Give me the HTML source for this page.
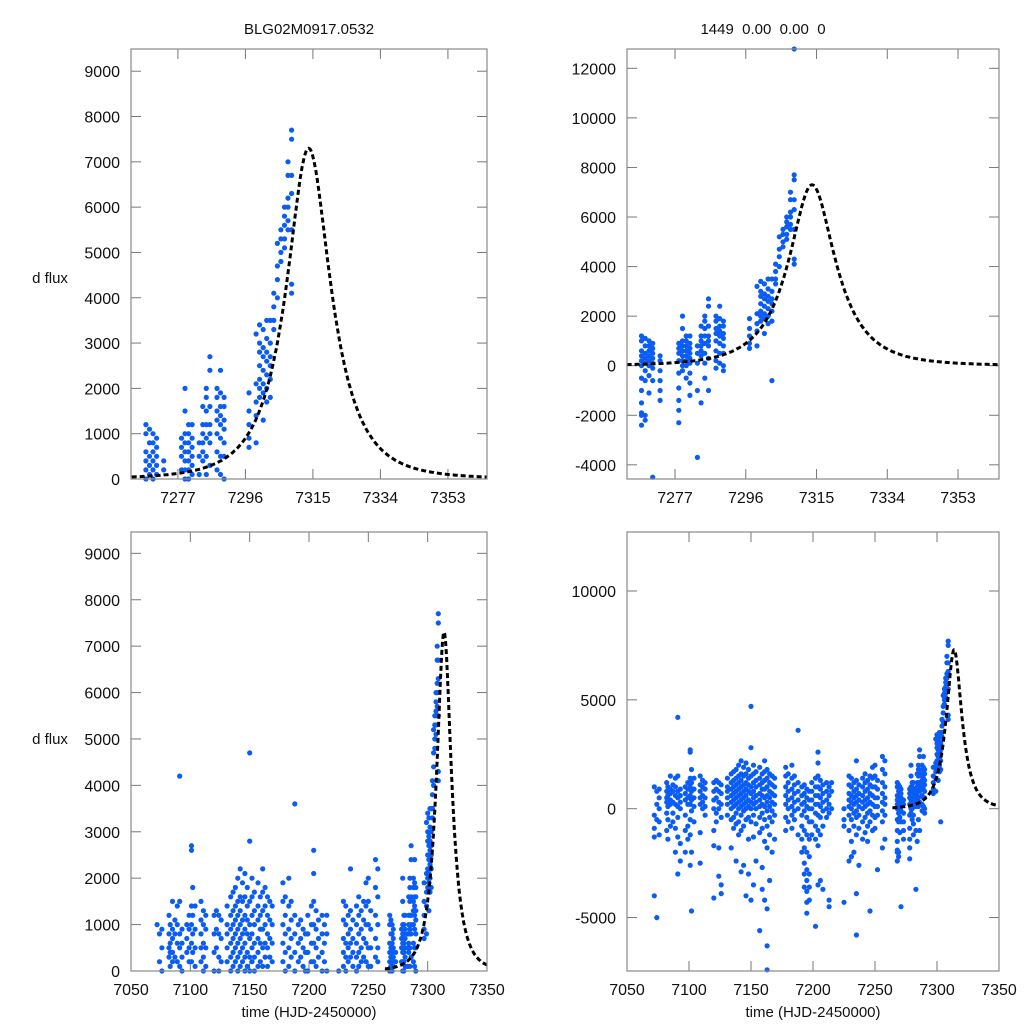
<!DOCTYPE html>
<html><head><meta charset="utf-8"><style>
html,body{margin:0;padding:0;background:#fff;}
svg{display:block;font-family:"Liberation Sans",sans-serif;}
</style></head><body>
<svg id="chart" width="1024" height="1024" viewBox="0 0 1024 1024">
<rect width="1024" height="1024" fill="#fff"/>
<text x="309" y="34" font-size="15" text-anchor="middle" fill="#111">BLG02M0917.0532</text>
<text x="763" y="34" font-size="15" text-anchor="middle" fill="#111" xml:space="preserve">1449  0.00  0.00  0</text>
<text x="50" y="283" font-size="15" text-anchor="middle" fill="#111">d flux</text>
<text x="50" y="744" font-size="15" text-anchor="middle" fill="#111">d flux</text>
<text x="309" y="1017" font-size="15" text-anchor="middle" fill="#111">time (HJD-2450000)</text>
<text x="813" y="1017" font-size="15" text-anchor="middle" fill="#111">time (HJD-2450000)</text>
</svg>
<script>
// observation nights (HJD-2450000)
var nights = [7072,7074,7076,7082,7083,7085,7087,7089,7091,7093,7097,7099,7101,7102,7104,7109,7111,7113,7120,7122,7124,7126,7131,7134,7136,7138,7140,7142,7144,7146,7148,7150,7152,7154,7157,7159,7161,7163,7165,7167,7169,7178,7180,7183,7185,7188,7191,7193,7195,7197,7199,7202,7204,7206,7208,7211,7213,7215,7225,7229,7231,7233,7235,7237,7240,7242,7244,7246,7248,7250,7252,7256,7258,7268,7269,7270,7271,7273,7278,7279,7280,7281,7283,7284,7285,7286,7288,7289,7290,7297,7299,7300,7301,7302,7303,7304,7305,7306,7307,7308,7309];
// flux per night, in units of 100
var fluxByNight = [
[10,-3,-9,-13,-40],[8,2,-5,-50],[9,5,0,-6,-12],[12,8,5,3,-2,-10],[10,6,4,1,-5,-14],[15,9,7,4,2,-8],[11,8,3,-2,-6],[14,10,6,2,-20,-9],[42,15,8,5,1,-4,-13,-30],[9,6,3,0,-16,-24],
[10,7,4,-3,-10,-20],[12,9,5,2,-8,-14],[27,26,14,10,6,2,-5,-12,-26],[18,12,8,4,-1,-20,-47],[14,9,5,1,-6],[15,11,8,5,2,-11,-25],[13,10,6,3,0],[12,9,5,1,-3],[12,8,4,0,-10,-17,-41],[13,9,5,-2,-6],
[12,8,3,0,-18,-31],[11,7,2,-4,-35,-39],[14,10,8,5,2,-3],[16,12,9,6,3,0,-5,-18],[17,13,10,7,4,1,-4,-9],[18,14,11,8,5,2,-2,-7,-24],[20,15,12,9,6,3,0,-6,-12],[22,16,13,10,7,4,1,-3,-10,-29],[19,15,11,8,5,2,-1,-8,-26],[21,16,12,9,6,3,0,-5,-40],
[18,14,11,8,4,1,-4,-14,-30],[47,28,15,10,7,3,0,-6,-42],[20,16,12,8,5,2,-3,-13,-35],[17,13,10,6,3,0,-7,-24],[19,14,11,7,4,1,-4,-11,-56],[16,12,9,6,2,-2,-9,-27,-37],[22,17,13,9,5,1,-5,-15,-42],[18,14,10,6,3,-1,-8,-18,-46,-63,-74],[16,12,8,5,1,-4,-12,-33],[15,11,7,3,-1,-6,-20],
[14,10,6,2,-3,-14],[19,15,10,6,2,-4,-10],[16,12,8,4,0,-6],[20,14,9,5,1,-3,-9],[15,11,7,3,-1,-5],[36,12,8,4,0,-12],[10,6,2,-3,-8,-14,-20],[11,7,3,-1,-10,-18,-25,-30,-36],[9,5,1,-4,-12,-20,-28,-33,-38,-43,-48],[8,4,0,-6,-14,-22,-30,-36,-42],
[12,8,4,0,-6,-12],[14,10,6,2,-2,-8,-14,-54],[26,21,15,10,6,2,-3,-10,-17,-35],[13,9,5,1,-4,-12,-33],[11,7,3,-1,-8,-37],[12,8,4,0,-4],[10,6,2,-2,-42,-45],[12,8,0],[0,-5,-8,-43],[15,11,7,4,1,-3,-10,-24],
[14,10,6,3,0,-5,-15,-22],[12,8,5,2,-2,-8,-20],[22,13,9,6,3,-1,-4,-12,-39,-58],[11,7,4,1,-3,-9,-26],[14,10,6,3,0,-6,-14],[16,12,8,4,1,-4,-11],[13,9,5,2,-2,-8,-15],[15,11,7,3,-1,-6,-47],[19,14,10,6,2,-3,-10],[20,15,10,5,1,-4,-9],
[13,9,5,1,-3,-28],[24,18,12,7,3,-1,-6,-18],[22,16,10,5,2,-3,-14],
[12,10,6,4,2,0,-5,-10,-15,-19,-20,-24],[11,8,5,3,1,-2,-6,-20,-22],[10,8,6,4,2,0,-4,-11],[9,7,5,3,1,-1,-6,-45],[4,2,-2,-6,-10,-14],
[9,7,5,2,-3,-9,-14,-18,-23],[20,15,10,8,6,4,2,0,-2],[12,10,8,6,4,2,0,-5],[12,9,7,5,3,1,-3,-7,-12],[8,5,1,-10,-37],[16,12,10,8,6,4,-15],[20,18,15,12,9,5,1,-5],[27,24,16,12,10,8,3,-10],[20,18,15,13,10,6,2,-1],[24,19,16,14,12,9,5,1],
[18,16,13,11,8,5,0,-2],[19,15,12,9,7],[32,21,17,14,8],[34,30,28,25,22,20,18],[33,29,27,24,21,19,13],[35,31,28,26,23,20,17],[35,30,27,25,22,18,-6],[41,38,35,33],[52,47,44,40],[55,53,50,48],
[60,58,56,53,51],[70,67,62,60,57,55],[128,77,75,67,63,55,43,41]
];
// microlensing model parameters
var modelT0 = [7313.8];
var modelTE = [13.1];
var modelU0 = [0.5];
var modelFs = [6172];
var modelRange = [7264,7364];
// axis tick labels
var xTicksZoom = [7277,7296,7315,7334,7353];
var xTicksFull = [7050,7100,7150,7200,7250,7300,7350];
var yTicksTL = [0,1000,2000,3000,4000,5000,6000,7000,8000,9000];
var yTicksTR = [-4000,-2000,0,2000,4000,6000,8000,10000,12000];
var yTicksBL = [0,1000,2000,3000,4000,5000,6000,7000,8000,9000];
var yTicksBR = [-5000,0,5000,10000];

var NS='http://www.w3.org/2000/svg';
var svg=document.getElementById('chart');
function mk(tag,attrs,parent){var e=document.createElementNS(NS,tag);for(var k in attrs)e.setAttribute(k,attrs[k]);(parent||svg).appendChild(e);return e;}
function model(t){var d=(t-modelT0[0])/modelTE[0];var u=Math.sqrt(modelU0[0]*modelU0[0]+d*d);var A=(u*u+2)/(u*Math.sqrt(u*u+4));return modelFs[0]*(A-1);}

function panel(id,L,R,T,B,x0,x1,y0,y1,xt,yt){
  var g=mk('g',{});
  
  
  var sx=function(v){return L+(v-x0)/(x1-x0)*(R-L);};
  var sy=function(v){return B-(v-y0)/(y1-y0)*(B-T);};
  var cp=mk('clipPath',{id:id+'-clip'},g);mk('rect',{x:L,y:T,width:R-L,height:B-T},cp);
  xt.forEach(function(v){var x=sx(v);
    var t1=mk('line',{x1:x,x2:x,y1:B,y2:B-10,stroke:'#777','stroke-width':1},g);
    
    mk('line',{x1:x,x2:x,y1:T,y2:T+10,stroke:'#777','stroke-width':1},g);
    var lb=mk('text',{x:x,y:B+24,'font-size':16,'text-anchor':'middle',fill:'#111'},g);lb.textContent=v;
    });
  yt.forEach(function(v){var y=sy(v);
    var t1=mk('line',{x1:L,x2:L+10,y1:y,y2:y,stroke:'#777','stroke-width':1},g);
    
    mk('line',{x1:R-10,x2:R,y1:y,y2:y,stroke:'#777','stroke-width':1},g);
    var lb=mk('text',{x:L-11,y:y+6,'font-size':16,'text-anchor':'end',fill:'#111'},g);lb.textContent=v;
    });
  var pg=mk('g',{fill:'#0a5cf5'},g);
  
  var tolY=(y1-y0)*0.004;
  nights.forEach(function(t,i){
    if(t<x0||t>x1)return;
    fluxByNight[i].forEach(function(f){var v=f*100;
      if(v<y0||v>y1+tolY)return;
      var c=mk('circle',{cx:sx(t).toFixed(1),cy:Math.max(T,sy(v)).toFixed(1),r:2.6},pg);
      });
  });
  var d='';for(var t=modelRange[0];t<=modelRange[1];t+=0.2){d+=(d?'L':'M')+sx(t).toFixed(1)+','+sy(model(t)).toFixed(1);}
  var p=mk('path',{d:d,fill:'none',stroke:'#000','stroke-width':3,'stroke-dasharray':'5,3','clip-path':'url(#'+id+'-clip)'},g);
  
  var fr=mk('rect',{x:L,y:T,width:R-L,height:B-T,fill:'none',stroke:'#888','stroke-width':1.2},g);
  
}
panel('top-left',131,487,49,479,7263.8,7364,0,9490,xTicksZoom,yTicksTL);
panel('top-right',627,999,49,479,7264.1,7364,-4572,12780,xTicksZoom,yTicksTR);
panel('bottom-left',131,487,532,971,7050,7350,0,9460,xTicksFull,yTicksBL);
panel('bottom-right',627,999,532,971,7050,7350,-7455,12710,xTicksFull,yTicksBR);
</script>
</body></html>
